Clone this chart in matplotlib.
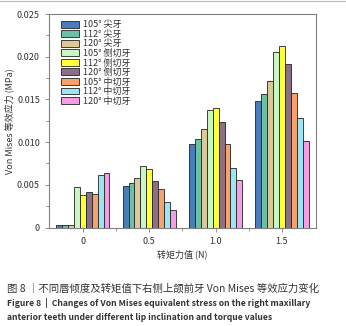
import matplotlib
matplotlib.use("Agg")
import matplotlib.pyplot as plt
import numpy as np
from matplotlib.ticker import MultipleLocator, FixedLocator
from matplotlib.lines import Line2D

plt.rcParams['font.family'] = ['Noto Sans CJK SC', 'DejaVu Sans']

categories = ["0", "0.5", "1.0", "1.5"]
series_labels = ["105° 尖牙", "112° 尖牙", "120° 尖牙",
                 "105° 侧切牙", "112° 侧切牙", "120° 侧切牙",
                 "105° 中切牙", "112° 中切牙", "120° 中切牙"]
values = [
    [0.0003, 0.0049, 0.0098, 0.0148],   # 105 canine
    [0.0003, 0.0052, 0.0104, 0.0156],   # 112 canine
    [0.0003, 0.0058, 0.0115, 0.0172],   # 120 canine
    [0.0047, 0.0072, 0.0138, 0.0205],   # 105 lateral
    [0.0038, 0.0069, 0.0140, 0.0212],   # 112 lateral
    [0.0042, 0.0055, 0.0123, 0.0192],   # 120 lateral
    [0.0039, 0.0045, 0.0098, 0.0157],   # 105 central
    [0.0062, 0.0030, 0.0070, 0.0128],   # 112 central
    [0.0064, 0.0021, 0.0056, 0.0101],   # 120 central
]
colors = ["#4a7ebb", "#6dbfa6", "#dcc99a", "#c8f7c5", "#ffff3a",
          "#8c6f87", "#f7a26c", "#9be6f2", "#f59ee6"]

fig = plt.figure(figsize=(3.46, 3.26), dpi=100)
ax = fig.add_axes([0.1416, 0.302, 0.7714, 0.655])

x = np.arange(len(categories))
n = len(series_labels)
w = 0.089
for i in range(n):
    ax.bar(x + (i - (n - 1) / 2) * w, values[i], width=w, color=colors[i],
           edgecolor="#222222", linewidth=0.6, label=series_labels[i])

ax.set_xlim(-0.51, 3.51)
ax.set_ylim(0, 0.025)
ax.set_xticks(x)
ax.set_xticklabels(categories)
ax.set_yticks([0, 0.005, 0.010, 0.015, 0.020, 0.025])
ax.set_yticklabels(["0", "0.005", "0.010", "0.015", "0.020", "0.025"])
ax.yaxis.set_minor_locator(MultipleLocator(0.0025))
ax.xaxis.set_minor_locator(FixedLocator([0.5, 1.5, 2.5]))
for s in ax.spines.values():
    s.set_color("#808080")
    s.set_linewidth(0.8)
ax.tick_params(axis='both', which='major', labelsize=6.5, colors="#808080",
               labelcolor="#333333", length=3, width=0.6)
ax.tick_params(axis='both', which='minor', colors="#808080", length=2, width=0.6)
ax.set_xlabel("转矩力值 (N)", fontsize=6.5, color="#333333", labelpad=3)
ax.set_ylabel("Von Mises 等效应力 (MPa)", fontsize=6.5, color="#333333", labelpad=2)

leg = ax.legend(loc="upper left", fontsize=6.5, frameon=False,
                labelspacing=0.05, handlelength=2.0, handleheight=0.8,
                handletextpad=0.5, borderaxespad=0.3,
                bbox_to_anchor=(0.02, 1.0))
for t in leg.get_texts():
    t.set_color("#333333")

fig.add_artist(Line2D([0, 1], [0.997, 0.997], color="#bbbbbb", linewidth=0.8,
                      transform=fig.transFigure))

fig.text(0.02, 1 - 288 / 326, "图 8 ｜不同唇倾度及转矩值下右侧上颌前牙 Von Mises 等效应力变化",
         fontsize=7.5, color="#333333", va="center", ha="left")
fig.text(0.02, 1 - 303 / 326,
         "Figure 8  |  Changes of Von Mises equivalent stress on the right maxillary",
         fontsize=6.2, fontweight="bold", color="#333333", va="center", ha="left")
fig.text(0.02, 1 - 317 / 326,
         "anterior teeth under different lip inclination and torque values",
         fontsize=6.2, fontweight="bold", color="#333333", va="center", ha="left")

fig.savefig("out.png", dpi=100)
